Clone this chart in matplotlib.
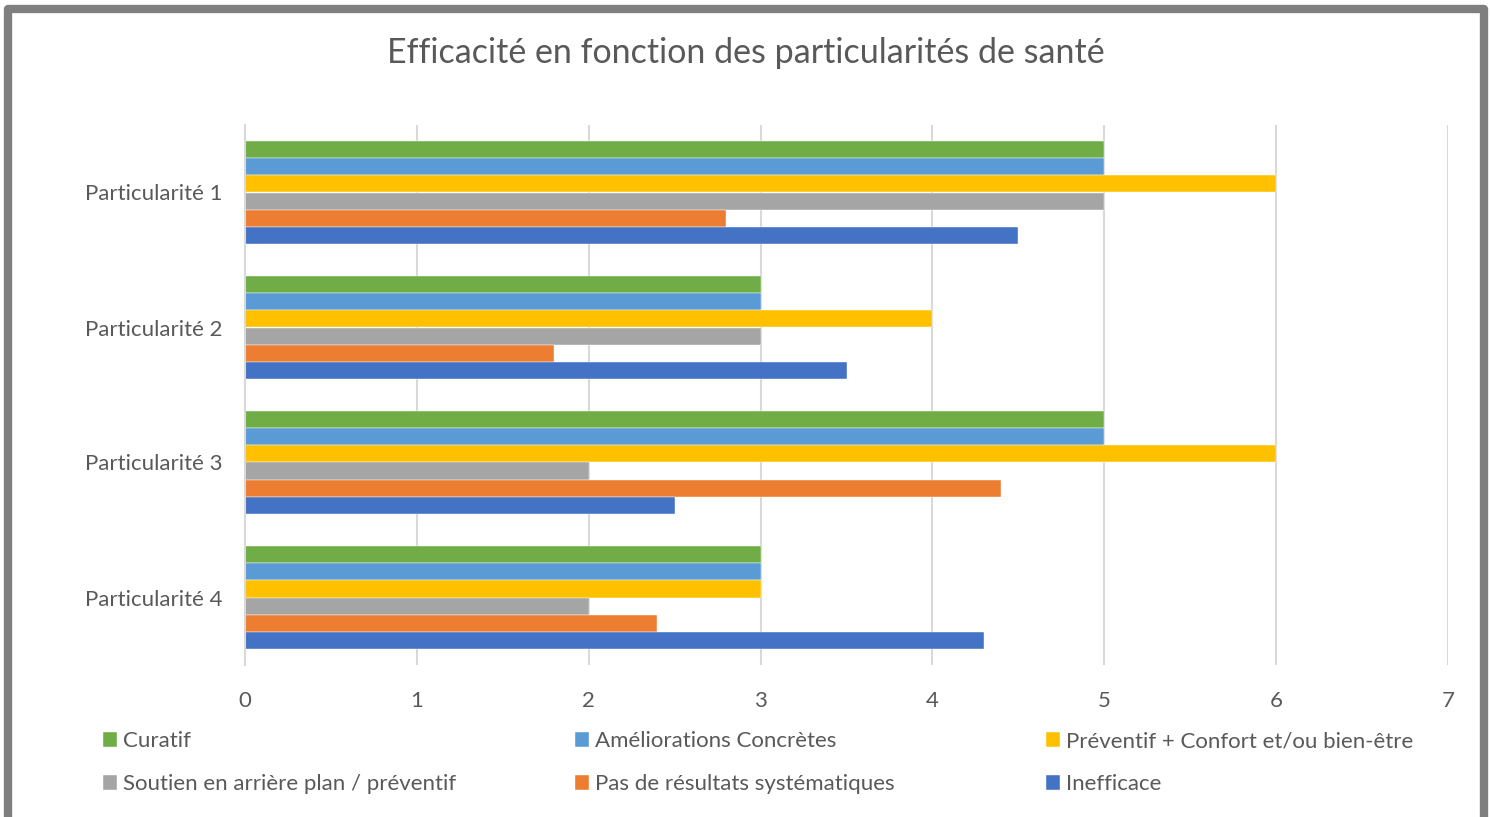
import matplotlib
matplotlib.use('Agg')
import matplotlib.pyplot as plt
from matplotlib.patches import Rectangle
import numpy as np

plt.rcParams['font.family'] = ['Lato', 'DejaVu Sans']

categories = ['Particularité 1', 'Particularité 2', 'Particularité 3', 'Particularité 4']
series_names = ['Curatif', 'Améliorations Concrètes', 'Préventif + Confort et/ou bien-être',
                'Soutien en arrière plan / préventif', 'Pas de résultats systématiques', 'Inefficace']
curatif = [5, 3, 5, 3]
ameliorations = [5, 3, 5, 3]
preventif = [6, 4, 6, 3]
soutien = [5, 3, 2, 2]
pas_resultats = [2.8, 1.8, 4.4, 2.4]
inefficace = [4.5, 3.5, 2.5, 4.3]
colors = ['#70AD47', '#5B9BD5', '#FFC000', '#A5A5A5', '#ED7D31', '#4472C4']

title = 'Efficacité en fonction des particularités de santé'
text_col = '#595959'

all_series = [curatif, ameliorations, preventif, soutien, pas_resultats, inefficace]

W, H = 1491, 817
fig = plt.figure(figsize=(W / 100, H / 100), dpi=100)
ax = fig.add_axes([245 / W, 1 - 665 / H, (1448 - 245) / W, (665 - 125) / H])

y = np.arange(len(categories))
h = 0.77 / len(all_series)
handles = []
for i, (vals, name, c) in enumerate(zip(all_series, series_names, colors)):
    b = ax.barh(y + (i - 2.5) * h, vals, height=h, color=c, label=name,
                edgecolor='white', linewidth=0.3)
    handles.append(b)

ax.set_xlim(0, 7)
ax.set_ylim(3.5, -0.5)
ax.set_yticks(y)
ax.set_yticklabels(categories)
ax.set_xticks(range(8))
ax.tick_params(axis='both', length=0, labelsize=16, colors=text_col)
ax.tick_params(axis='x', pad=18.5)
ax.tick_params(axis='y', pad=16.5)
ax.grid(axis='x', color='#D9D9D9', linewidth=1.5)
ax.set_axisbelow(True)
for s in ['top', 'right', 'bottom']:
    ax.spines[s].set_visible(False)
ax.spines['left'].set_color('#D9D9D9')
ax.spines['left'].set_linewidth(1.5)

fig.text(0.5, 1 - 53 / H, title, ha='center', va='center', fontsize=24.5, color=text_col)

# legend, three columns of two entries
col_x = [103, 575, 1046]
for k in range(3):
    idx = [k, k + 3]
    leg = fig.legend([handles[j] for j in idx], [series_names[j] for j in idx],
                     loc='upper left', bbox_to_anchor=(col_x[k] / W, 1 - 731 / H),
                     frameon=False, fontsize=16, handlelength=0.65, handleheight=0.65,
                     handletextpad=0.25, labelspacing=1.05, borderpad=0, borderaxespad=0,
                     labelcolor=text_col)

# frame around chart
fig.patches.append(Rectangle((7.5 / W, 1 - 822 / H), (1483.5 - 7.5) / W, (822 - 8.5) / H,
                             transform=fig.transFigure, fill=False, edgecolor='#7F7F7F',
                             linewidth=6.0, joinstyle='round'))

fig.savefig('out.png', dpi=100)
